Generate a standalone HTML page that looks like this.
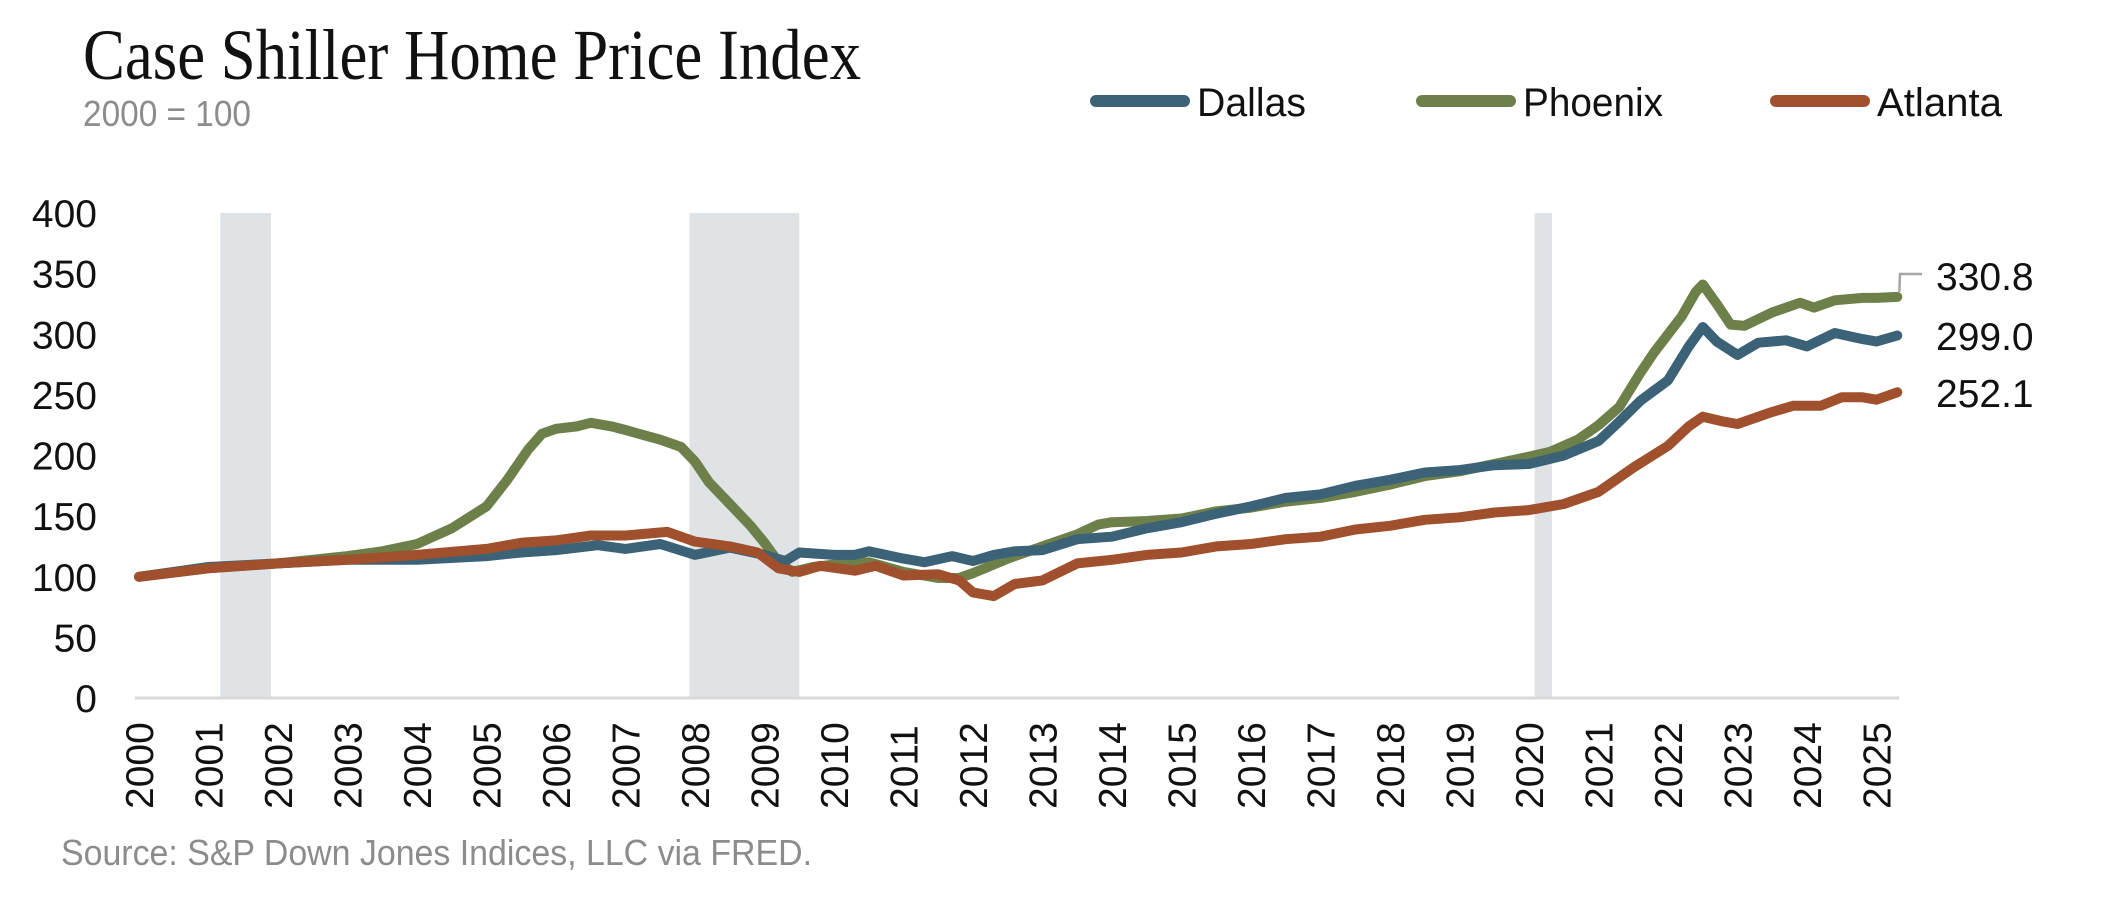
<!DOCTYPE html>
<html><head><meta charset="utf-8"><style>
html,body{margin:0;padding:0;background:#fff;}
svg{display:block;font-family:"Liberation Sans",sans-serif;}
</style></head><body>
<svg id="chart" width="2112" height="902" viewBox="0 0 2112 902" xmlns="http://www.w3.org/2000/svg">
<text x="83" y="79" font-family="Liberation Serif, serif" font-size="72" fill="#111" textLength="778" lengthAdjust="spacingAndGlyphs">Case Shiller Home Price Index</text>
<text x="83" y="126" font-size="36" fill="#8c8c8c" textLength="168" lengthAdjust="spacingAndGlyphs">2000 = 100</text>
<g id="legend"></g>
<g id="recessions"></g>
<line x1="135" y1="698" x2="1899" y2="698" stroke="#d9d9d9" stroke-width="3"/>
<g id="yticks"></g>
<g id="xticks"></g>
<g id="series"></g>
<g id="endlabels"></g>
<text x="61" y="865" font-size="36" fill="#8c8c8c" textLength="751" lengthAdjust="spacingAndGlyphs">Source: S&amp;P Down Jones Indices, LLC via FRED.</text>
</svg>
<script>
const yTicks=[0,50,100,150,200,250,300,350,400];
const xYears=[2000,2001,2002,2003,2004,2005,2006,2007,2008,2009,2010,2011,2012,2013,2014,2015,2016,2017,2018,2019,2020,2021,2022,2023,2024,2025];
const recessions=[[2001.17,2001.9],[2007.92,2009.5],[2020.08,2020.33]];
const seriesNames=["Dallas","Phoenix","Atlanta"];
const endValues=["299.0","330.8","252.1"];
const phxT=[2000,2001,2002,2003,2003.5,2004,2004.5,2005,2005.3,2005.6,2005.8,2006,2006.3,2006.5,2006.8,2007,2007.5,2007.8,2008,2008.2,2008.5,2008.8,2009,2009.2,2009.4,2009.7,2010,2010.5,2011,2011.5,2011.8,2012,2012.5,2013,2013.5,2013.8,2014,2014.5,2015,2015.5,2016,2016.5,2017,2017.5,2018,2018.5,2019,2019.5,2020,2020.3,2020.7,2021,2021.3,2021.6,2021.8,2022,2022.2,2022.4,2022.5,2022.7,2022.9,2023.1,2023.5,2023.9,2024.1,2024.4,2024.8,2025,2025.3];
const phxV=[100,107,111,117,121,127,140,158,180,205,218,222,224,227,224,221,213,207,195,178,160,142,128,112,104,108,110,112,104,99,99,103,115,125,135,143,145,146,148,154,157,162,165,170,176,183,187,193,199,203,213,225,240,268,285,300,315,335,341,325,308,307,318,326,322,328,330,330,330.8];
const dalT=[2000,2001,2002,2003,2004,2005,2005.5,2006,2006.6,2007,2007.5,2008,2008.5,2009,2009.3,2009.5,2010,2010.3,2010.5,2011,2011.3,2011.7,2012,2012.3,2012.6,2013,2013.5,2014,2014.5,2015,2015.5,2016,2016.5,2017,2017.5,2018,2018.5,2019,2019.5,2020,2020.5,2021,2021.3,2021.6,2022,2022.3,2022.5,2022.7,2023,2023.3,2023.7,2024,2024.4,2024.8,2025,2025.3];
const dalV=[100,108,111,114,114,117,120,122,126,123,127,118,124,118,113,120,118,118,121,115,112,117,113,118,121,122,131,133,140,145,152,158,165,168,175,180,186,188,192,193,200,212,228,245,262,290,306,294,283,293,295,290,301,296,294,299];
const atlT=[2000,2001,2002,2003,2004,2005,2005.5,2006,2006.5,2007,2007.6,2008,2008.5,2008.9,2009.2,2009.5,2009.8,2010.3,2010.6,2011,2011.5,2011.8,2012,2012.3,2012.6,2013,2013.5,2014,2014.5,2015,2015.5,2016,2016.5,2017,2017.5,2018,2018.5,2019,2019.5,2020,2020.5,2021,2021.5,2022,2022.3,2022.5,2022.8,2023,2023.5,2023.8,2024.2,2024.5,2024.8,2025,2025.3];
const atlV=[100,107,111,114,118,123,128,130,134,134,137,129,125,120,107,104,109,105,109,101,102,97,87,84,94,97,111,114,118,120,125,127,131,133,139,142,147,149,153,155,160,170,190,208,224,232,228,226,236,241,241,248,248,246,252.1];
const colors=["#3b6276","#6e8049","#a0502d"];
const NS="http://www.w3.org/2000/svg";
const X0=139,PX=69.5,Y0=698,PY=485/400;
const xs=t=>X0+(t-2000)*PX;
const ys=v=>Y0-v*PY;
function mk(tag,attrs,parent){const e=document.createElementNS(NS,tag);for(const k in attrs)e.setAttribute(k,attrs[k]);parent.appendChild(e);return e;}
const g=id=>document.getElementById(id);
recessions.forEach(r=>{const e=mk('rect',{x:xs(r[0]),y:ys(400),width:xs(r[1])-xs(r[0]),height:ys(0)-ys(400),fill:'#dfe3e6'},g('recessions'));

});
yTicks.forEach(v=>{const e=mk('text',{x:97,y:ys(v)+14,'text-anchor':'end','font-size':39,fill:'#111'},g('yticks'));e.textContent=v;

});
xYears.forEach(yr=>{const x=xs(yr)+14;const e=mk('text',{x:x,y:809,transform:`rotate(-90 ${x} 809)`,'font-size':39,fill:'#111'},g('xticks'));e.textContent=yr;

});
const data=[[dalT,dalV],[phxT,phxV],[atlT,atlV]];
[1,0,2].forEach(i=>{const [T,V]=data[i];const d=T.map((t,j)=>(j?'L':'M')+xs(t).toFixed(1)+','+ys(V[j]).toFixed(1)).join(' ');
const e=mk('path',{d:d,fill:'none',stroke:colors[i],'stroke-width':10,'stroke-linejoin':'round','stroke-linecap':'round'},g('series'));

});
const legX=[1091,1417,1771];
const legW=[109,140,125];
seriesNames.forEach((n,i)=>{const l=mk('line',{x1:legX[i]+5,y1:101,x2:legX[i]+93,y2:101,stroke:colors[i],'stroke-width':12,'stroke-linecap':'round'},g('legend'));


const t=mk('text',{x:legX[i]+106,y:116,'font-size':40,fill:'#111',textLength:legW[i],lengthAdjust:'spacingAndGlyphs'},g('legend'));t.textContent=n;

});
const endY=[350,290,407];
seriesNames.forEach((n,i)=>{const t=mk('text',{x:1936,y:endY[i],'font-size':39,fill:'#111'},g('endlabels'));t.textContent=endValues[i];

});
const ld=mk('path',{d:`M${xs(phxT[phxT.length-1])+2},${ys(phxV[phxV.length-1])-5} L1900,274 L1922,274`,fill:'none',stroke:'#a6a6a6','stroke-width':2.5},g('endlabels'));


</script>
</body></html>
